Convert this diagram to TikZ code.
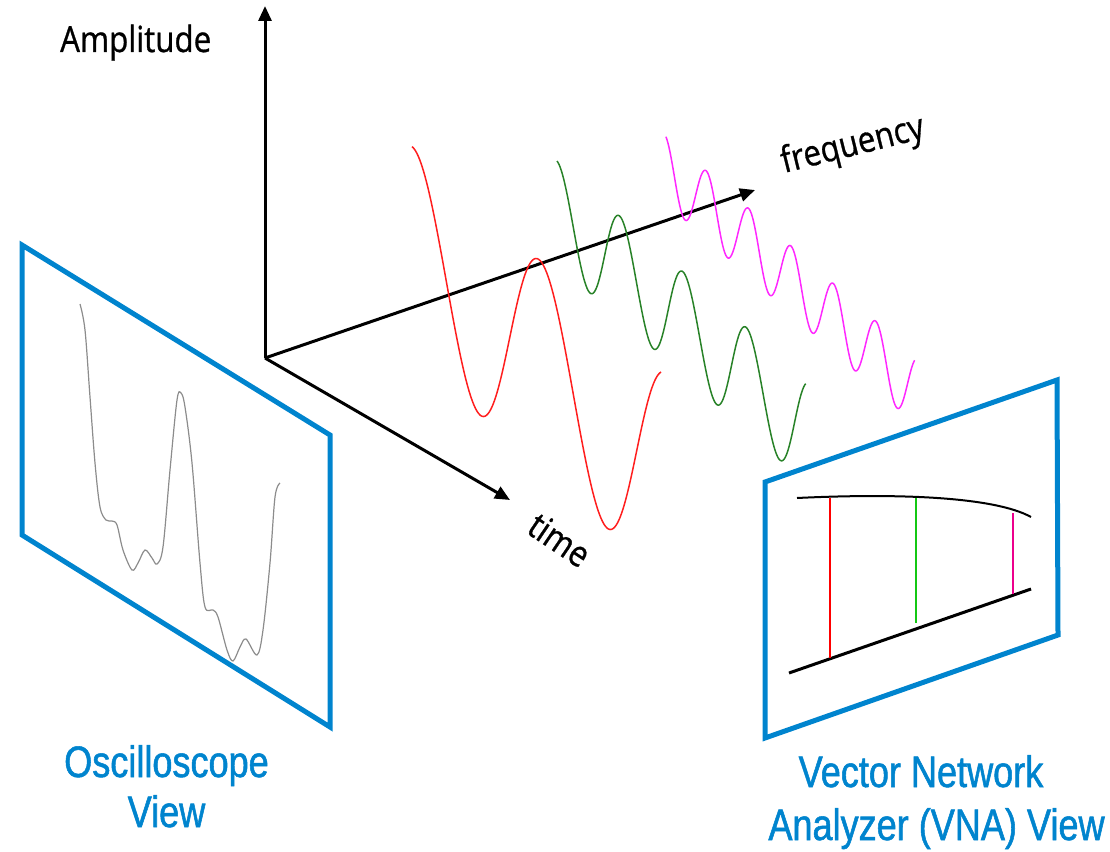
\documentclass[tikz,border=0pt]{standalone}
\usepackage{fontspec}
\setmainfont{Open Sans}
\newfontfamily\labfont[FakeStretch=0.87,FakeBold=0.8]{Open Sans}
\newfontfamily\bluefont[FakeStretch=0.82,FakeBold=1.2]{Liberation Sans}
\usetikzlibrary{arrows.meta}
\definecolor{panelblue}{RGB}{0,132,206}
\definecolor{wred}{RGB}{255,30,30}
\definecolor{wgreen}{RGB}{40,130,40}
\definecolor{wmag}{RGB}{255,40,255}
\definecolor{vgreen}{RGB}{20,200,20}
\definecolor{scopegray}{RGB}{140,140,140}
\tikzset{
  axis/.style={line width=3pt, -{Triangle[length=15pt,width=13pt]}},
  panel/.style={draw=panelblue, line width=5pt, line join=miter},
  wave/.style={line width=1.5pt, line join=round},
  axlabel/.style={inner sep=0pt, anchor=base west, font=\labfont\fontsize{36}{42}\selectfont},
  bluelabel/.style={inner sep=0pt, anchor=base, text=panelblue, font=\bluefont\fontsize{44}{50}\selectfont},
  vnaline/.style={line width=2pt}
}
\begin{document}
\begin{tikzpicture}[x=1pt,y=-1pt]
\useasboundingbox (0,0) rectangle (1110,851);

% axes
\coordinate (O) at (265,358);
\coordinate (ampTip) at (265,6);
\coordinate (freqTip) at (755,190);
\coordinate (timeTip) at (510,500);
\draw[axis] (O) -- (ampTip);
\draw[axis] (O) -- (freqTip);
\draw[axis] (O) -- (timeTip);

\node[axlabel] (amplitude) at (60,52) {Amplitude};
\node[axlabel, rotate=14] (frequency) at (784,173) {frequency};
\node[axlabel, rotate=-34] (timelabel) at (525,532) {time};

% waves
\draw[wave, wred] plot[domain=-0.504:1.457, samples=160, variable=\s]
  ({478+127*\s+2*cos(360*\s)}, {309.25+113*\s+105.75*cos(360*\s)});
\draw[wave, wgreen] plot[domain=-0.49:3.44, samples=240, variable=\s]
  ({589+63.3*\s+1*cos(360*\s)}, {240.6+55.7*\s+52.4*cos(360*\s)});
\draw[wave, wmag] plot[domain=-0.45:5.42, samples=320, variable=\s]
  ({685+42.4*\s}, {186+37.6*\s+34*cos(360*\s)});

% oscilloscope panel
\draw[panel] (22,245) -- (330,435) -- (330,727) -- (22,535) -- cycle;
\draw[scopegray, line width=1.2pt] plot[smooth, tension=0.55] coordinates {
  (80,304) (85,330) (90,397) (95,463) (100,507) (106,520) (112,521) (117,525)
  (123,550) (132,570) (138,563) (145,550) (152,558) (157,564) (163,547)
  (170,470) (177,400) (181,393) (185,407) (192,463) (200,563) (205,607)
  (213,610) (218,617) (227,650) (233,661) (240,647) (246,639) (257,655)
  (263,630) (270,563) (275,497) (280,483)};

% VNA panel
\draw[panel] (765,482) -- (1057,380) -- (1058,635) -- (765,738) -- cycle;
\draw[vnaline] (797,498) .. controls (900,493) and (995,497) .. (1031,517);
\draw[line width=3pt] (789,673) -- (1031,589);
\draw[vnaline, red] (830,498) -- (830,658);
\draw[vnaline, vgreen] (916,498) -- (916,623);
\draw[vnaline, magenta] (1013,513) -- (1013,594);

% labels
\node[bluelabel] (osc1) at (166.5,777) {Oscilloscope};
\node[bluelabel] (osc2) at (166.5,827) {View};
\node[bluelabel] (vna1) at (921,787) {Vector Network};
\node[bluelabel] (vna2) at (936.5,840) {Analyzer (VNA) View};
\end{tikzpicture}
\end{document}
